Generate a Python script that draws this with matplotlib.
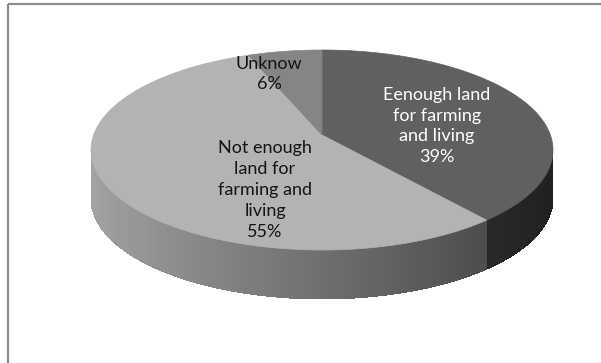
import numpy as np
import matplotlib
matplotlib.use("Agg")
import matplotlib.pyplot as plt
from matplotlib.collections import PolyCollection
from matplotlib.patches import Polygon

# data
labels = ["Eenough land\nfor farming\nand living", "Not enough\nland for\nfarming and\nliving", "Unknow"]
shares = [39, 55, 6]
top_colors = ["#606060", "#b3b3b3", "#858585"]
base_gray = [0.376, 0.70, 0.52]
text_colors = ["white", "#141414", "#141414"]

# layout (pixel space, y down)
W, H = 601, 363
CX = 322
TOP_Y, FRONT_Y = 50, 250
HALF_W = 231
DEPTH = 49
PERSP = 0.15
label_pos = [(437, 126), (265, 190), (269, 74)]


def scale(t):
    return 1.0 / (1.0 + PERSP * np.cos(t))


RY = (FRONT_Y - TOP_Y) / (1 / (1 - PERSP) + 1 / (1 + PERSP))
CY = TOP_Y + RY / (1 + PERSP)
_tt = np.linspace(0, 2 * np.pi, 2000)
RX = HALF_W / np.max(np.abs(np.sin(_tt) * scale(_tt)))


def rim(t, drop=0.0):
    s = scale(t)
    return CX + RX * np.sin(t) * s, CY - RY * np.cos(t) * s + drop


fig = plt.figure(figsize=(W / 100, H / 100), dpi=100)
ax = fig.add_axes([0, 0, 1, 1])
ax.set_xlim(0, W)
ax.set_ylim(H, 0)
ax.axis("off")

# chart frame (only left and top edges are in the crop)
ax.plot([8, 8], [4, H], color="#8c8c8c", lw=1.6, solid_capstyle="butt")
ax.plot([8, W], [4, 4], color="#8c8c8c", lw=1.6, solid_capstyle="butt")

# slice angles, clockwise from 12 o'clock
frac = np.array(shares, dtype=float) / sum(shares)
edges = np.concatenate([[0], np.cumsum(frac)]) * 2 * np.pi

# visible side: between right and left silhouette points
xs, _ = rim(_tt)
t_right = _tt[np.argmax(xs)]
t_left = _tt[np.argmin(xs)]
ts = np.linspace(t_right, t_left, 300)

# backing shape so strips leave no gaps
bx, by = rim(ts)
bx2, by2 = rim(ts[::-1], DEPTH)
ax.add_patch(Polygon(np.column_stack([np.r_[bx, bx2], np.r_[by, by2]]),
                     closed=True, facecolor="#555555", edgecolor="none"))

polys, cols = [], []
for a, b in zip(ts[:-1], ts[1:]):
    mid = 0.5 * (a + b)
    k = np.searchsorted(edges, mid) - 1
    shade = 0.62 - 0.30 * np.sin(mid)
    g = float(np.clip(base_gray[k] * shade, 0, 1))
    b2 = b + (b - a) * 0.5
    x1, y1 = rim(a)
    x2, y2 = rim(min(b2, t_left))
    polys.append([(x1, y1), (x2, y2), (x2, y2 + DEPTH), (x1, y1 + DEPTH)])
    cols.append((g, g, g))
pc = PolyCollection(polys, facecolors=cols, edgecolors="none", antialiased=False)
ax.add_collection(pc)

# top face wedges
for i in range(len(shares)):
    t = np.linspace(edges[i], edges[i + 1], 200)
    px, py = rim(t)
    pts = np.column_stack([np.r_[CX, px], np.r_[CY, py]])
    ax.add_patch(Polygon(pts, closed=True, facecolor=top_colors[i],
                         edgecolor=top_colors[i], lw=0.5))

# labels
for i in range(len(shares)):
    txt = f"{labels[i]}\n{shares[i]}%"
    ax.text(label_pos[i][0], label_pos[i][1], txt, ha="center", va="center",
            multialignment="center", color=text_colors[i], fontsize=13,
            family="Lato", linespacing=1.38)

fig.savefig("out.png", dpi=100)
